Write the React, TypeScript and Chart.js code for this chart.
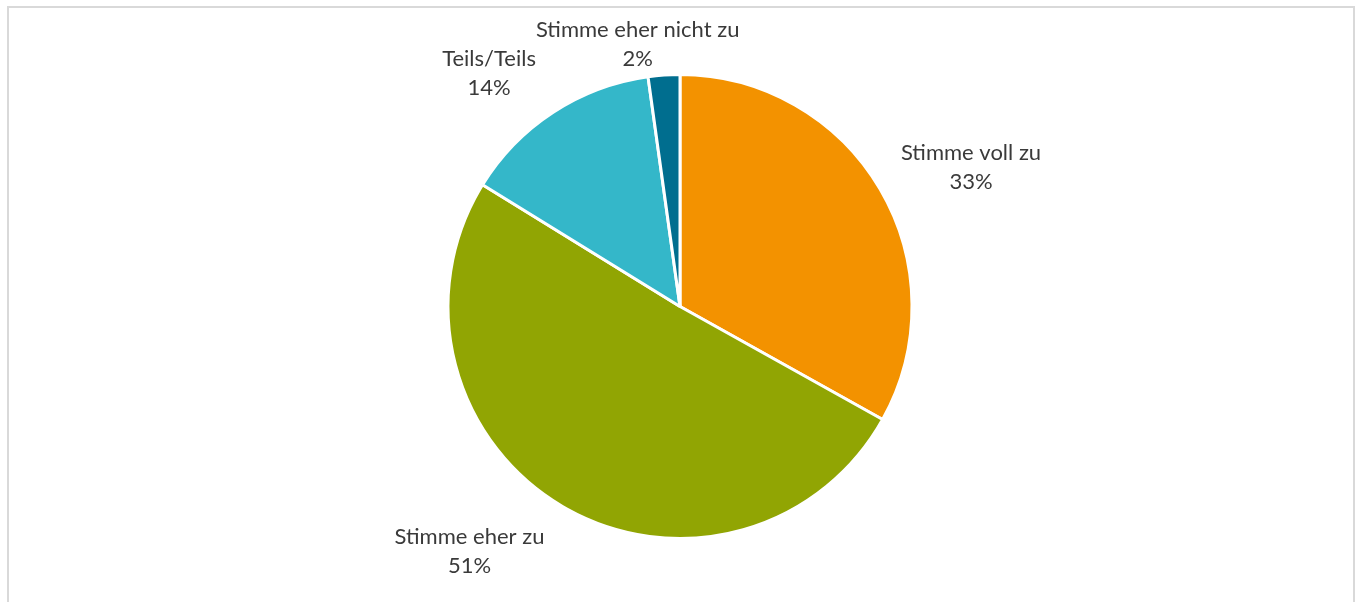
import React, { useEffect, useRef } from "react";
import { Chart, registerables } from "chart.js";

Chart.register(...registerables);

const categories = ["Stimme voll zu", "Stimme eher zu", "Teils/Teils", "Stimme eher nicht zu"];
const values = [33.1, 50.7, 14.0, 2.2];
const colors = ["#F39200", "#91A503", "#34B7C9", "#006E8F"];
// label placement: [angle nudge in degrees, distance beyond outer radius]
const labelNudge = [
  [4.7, 91],
  [10.4, 90],
  [-6.1, 70],
  [-5.2, 34],
];

const FONT_SIZE = 22;
const FONT = `${FONT_SIZE}px Lato, "Open Sans", sans-serif`;

const labelPlugin = {
  id: "pieLabels",
  afterDatasetsDraw(chart: any) {
    const ctx = chart.ctx;
    const meta = chart.getDatasetMeta(0);
    const data = chart.data.datasets[0].data as number[];
    const total = data.reduce((a: number, b: number) => a + b, 0);
    ctx.save();
    ctx.font = FONT;
    ctx.fillStyle = "#3A3A3A";
    ctx.textAlign = "center";
    ctx.textBaseline = "alphabetic";
    const capH = FONT_SIZE * 0.72;
    meta.data.forEach((arc: any, i: number) => {
      const { x, y, startAngle, endAngle, outerRadius } = arc.getProps(
        ["x", "y", "startAngle", "endAngle", "outerRadius"],
        true
      );
      const mid = (startAngle + endAngle) / 2 + (labelNudge[i][0] * Math.PI) / 180;
      const d = outerRadius + labelNudge[i][1];
      const cx = x + Math.cos(mid) * d;
      const cy = y + Math.sin(mid) * d;
      const pct = Math.round((data[i] / total) * 100) + "%";
      ctx.fillText(chart.data.labels[i], cx, cy - 14.5 + capH / 2);
      ctx.fillText(pct, cx, cy + 14.5 + capH / 2);
    });
    ctx.restore();
  },
};

export default function App() {
  const ref = useRef<HTMLCanvasElement>(null);
  useEffect(() => {
    if (!ref.current) return;
    const chart = new Chart(ref.current, {
      type: "pie",
      data: {
        labels: categories,
        datasets: [
          {
            data: values,
            backgroundColor: colors,
            borderColor: "#FFFFFF",
            borderWidth: 3,
          },
        ],
      },
      options: {
        animation: false,
        responsive: false,
        maintainAspectRatio: false,
        layout: { padding: { top: 73, bottom: 62, left: 200, right: 196 } },
        plugins: {
          legend: { display: false },
          tooltip: { enabled: false },
          title: { display: false },
        },
      },
      plugins: [labelPlugin],
    });
    return () => chart.destroy();
  }, []);
  return (
    <div style={{ position: "absolute", left: 0, top: 0, width: 1356, height: 602, overflow: "hidden", background: "#fff" }}>
      <div
        style={{
          position: "absolute",
          left: 7,
          top: 6,
          width: 1344,
          height: 640,
          border: "2px solid #D9D9D9",
        }}
      />
      <canvas ref={ref} width={1356} height={602} style={{ position: "absolute", left: 0, top: 0 }} />
    </div>
  );
}
